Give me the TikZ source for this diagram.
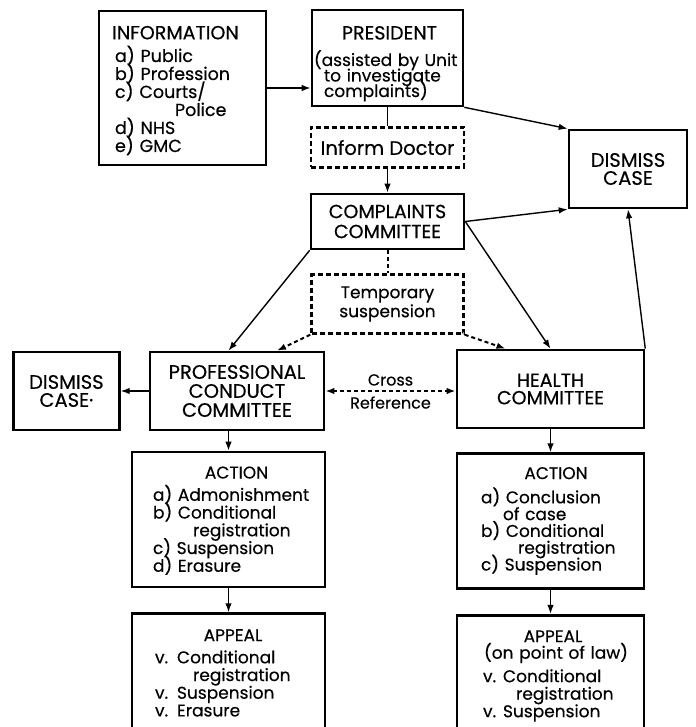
\documentclass[tikz,border=0pt]{standalone}
\usepackage{fontspec}
\setmainfont{Poppins}[FakeBold=0.4]
\usetikzlibrary{positioning, arrows.meta}

\begin{document}
\begin{tikzpicture}[x=1pt, y=-1pt,
    >={Latex[length=9pt, width=6.5pt]},
    font=\fontsize{16}{18}\selectfont,
    box/.style={draw, line width=2.6pt, inner sep=0pt, align=center,
        execute at begin node={\lineskiplimit=-\maxdimen\relax}},
    dbox/.style={box, line width=2.4pt, dash pattern=on 5pt off 3pt},
    listbox/.style={box, align=left, text height=0pt,
        execute at begin node={\rightskip=-80pt plus 1fil\relax}},
    link/.style={->, line width=1.4pt},
    dline/.style={line width=2pt, dash pattern=on 4pt off 3pt},
    dlink/.style={->, dline}]
    \useasboundingbox (0,0) rectangle (695,727);

    % Information and President
    \node[listbox, minimum width=167pt, minimum height=154pt, text width=167pt, text depth=97.4pt,
          font=\fontsize{17.5}{18}\selectfont] (information) at (182.5,88) {\leftskip=16pt
        \hspace*{60.5pt}\makebox[0pt]{\fontsize{19}{18}\selectfont INFORMATION}\\[4.7pt]
        a) Public\\ b) Profession\\ c) Courts/\\ \hspace*{60pt}Police\\ d) NHS\\ e) GMC\par};
    \node[listbox, minimum width=151pt, minimum height=96pt, text width=151pt, text depth=37pt,
          font=\fontsize{17}{15.5}\selectfont] (president) at (387.5,58) {\leftskip=2pt
        \hspace*{75.5pt}\makebox[0pt]{\fontsize{19}{18}\selectfont PRESIDENT}\\[11pt]
        (assisted by Unit\\ \hspace*{10pt}to investigate\\ \hspace*{10pt}complaints)\par};
    \node[dbox, minimum width=153pt, minimum height=40pt, below=19pt of president, font=\fontsize{19.5}{20}\selectfont] (inform_doctor) {Inform Doctor};
    \node[box, minimum width=153pt, minimum height=55pt, below=24pt of inform_doctor, font=\fontsize{19}{20}\selectfont] (complaints) {COMPLAINTS\\COMMITTEE};
    \node[dbox, minimum width=152pt, minimum height=59pt, below=23pt of complaints, font=\fontsize{17}{19}\selectfont] (temp_suspension) {Temporary\\suspension};
    \node[box, minimum width=118pt, minimum height=78pt, font=\fontsize{19.5}{18}\selectfont] (dismiss_right) at (628,169) {DISMISS\\CASE};

    % Committees
    \node[box, minimum width=174pt, minimum height=78pt, font=\fontsize{19.5}{19}\selectfont] (prof_conduct) at (237,391) {PROFESSIONAL\\CONDUCT\\COMMITTEE};
    \node[box, minimum width=106pt, minimum height=78pt, left=28pt of prof_conduct, font=\fontsize{19.5}{18}\selectfont] (dismiss_left) {DISMISS\\CASE\textperiodcentered};
    \node[box, minimum width=187pt, minimum height=78pt, font=\fontsize{19}{17.5}\selectfont] (health) at (550.5,389) {HEALTH\\COMMITTEE};

    % Action and Appeal
    \node[listbox, minimum width=193pt, minimum height=135pt, text width=193pt, text depth=82pt,
          font=\fontsize{17}{17.75}\selectfont] (action_pc) at (228.5,519.5) {\leftskip=21pt
        \hspace*{83.5pt}\makebox[0pt]{ACTION}\\[4.5pt]
        a) Admonishment\\ b) Conditional\\ \hspace*{40pt}registration\\ c) Suspension\\ d) Erasure\par};
    \node[listbox, minimum width=193pt, minimum height=118pt, text width=193pt, text depth=63pt,
          below=24pt of action_pc, font=\fontsize{17}{17.7}\selectfont] (appeal_pc) {\leftskip=23pt
        \hspace*{78pt}\makebox[0pt]{APPEAL}\\[4.5pt]
        \makebox[22pt][l]{v.}Conditional\\ \hspace*{38pt}registration\\
        \makebox[22pt][l]{v.}Suspension\\ \makebox[22pt][l]{v.}Erasure\par};
    \node[listbox, minimum width=187pt, minimum height=135pt, text width=187pt, text depth=84pt,
          below=23pt of health, font=\fontsize{17}{16.8}\selectfont] (action_h) {\leftskip=24pt
        \hspace*{75pt}\makebox[0pt]{ACTION}\\[7.4pt]
        a) Conclusion\\ \hspace*{22pt}of case\\ b) Conditional\\ \hspace*{37pt}registration\\ c) Suspension\par};
    \node[listbox, minimum width=187pt, minimum height=117pt, text width=187pt, text depth=63pt,
          below=24pt of action_h, font=\fontsize{17}{17.5}\selectfont] (appeal_h) {\leftskip=26pt
        \hspace*{70pt}\makebox[0pt]{APPEAL}\\[-1pt]
        \hspace*{73pt}\makebox[0pt]{(on point of law)}\\[6pt]
        \makebox[20pt][l]{v.}Conditional\\ \hspace*{33pt}registration\\ \makebox[20pt][l]{v.}Suspension\par};

    % Arrows
    \draw[link] (information) -- (information -| president.west);
    \draw[line width=1.4pt] (president) -- (inform_doctor);
    \draw[link] (inform_doctor) -- (complaints);
    \draw[link] (president.south east) -- (dismiss_right.north west);
    \draw[link] (complaints.east) -- (dismiss_right.south west);
    \draw[link] (complaints.east) -- (health.north);
    \draw[link] (complaints.south west) -- (prof_conduct.north -| action_pc);
    \draw[dline] (complaints) -- (temp_suspension);
    \draw[dlink] (temp_suspension.south west) -- ([xshift=40pt]prof_conduct.north);
    \draw[dlink] (temp_suspension.south east) -- ([xshift=-45pt]health.north);
    \draw[link] (prof_conduct) -- (dismiss_left);
    \draw[dlink, <->] (prof_conduct.east) -- node[above=1pt] {Cross} node[below=1pt] {Reference} (prof_conduct.east -| health.west);
    \draw[link] (health.north east) -- (dismiss_right.south);
    \draw[link] (prof_conduct.south -| action_pc) -- (action_pc);
    \draw[link] (action_pc) -- (appeal_pc);
    \draw[link] (health) -- (action_h);
    \draw[link] (action_h) -- (appeal_h);
\end{tikzpicture}
\end{document}
